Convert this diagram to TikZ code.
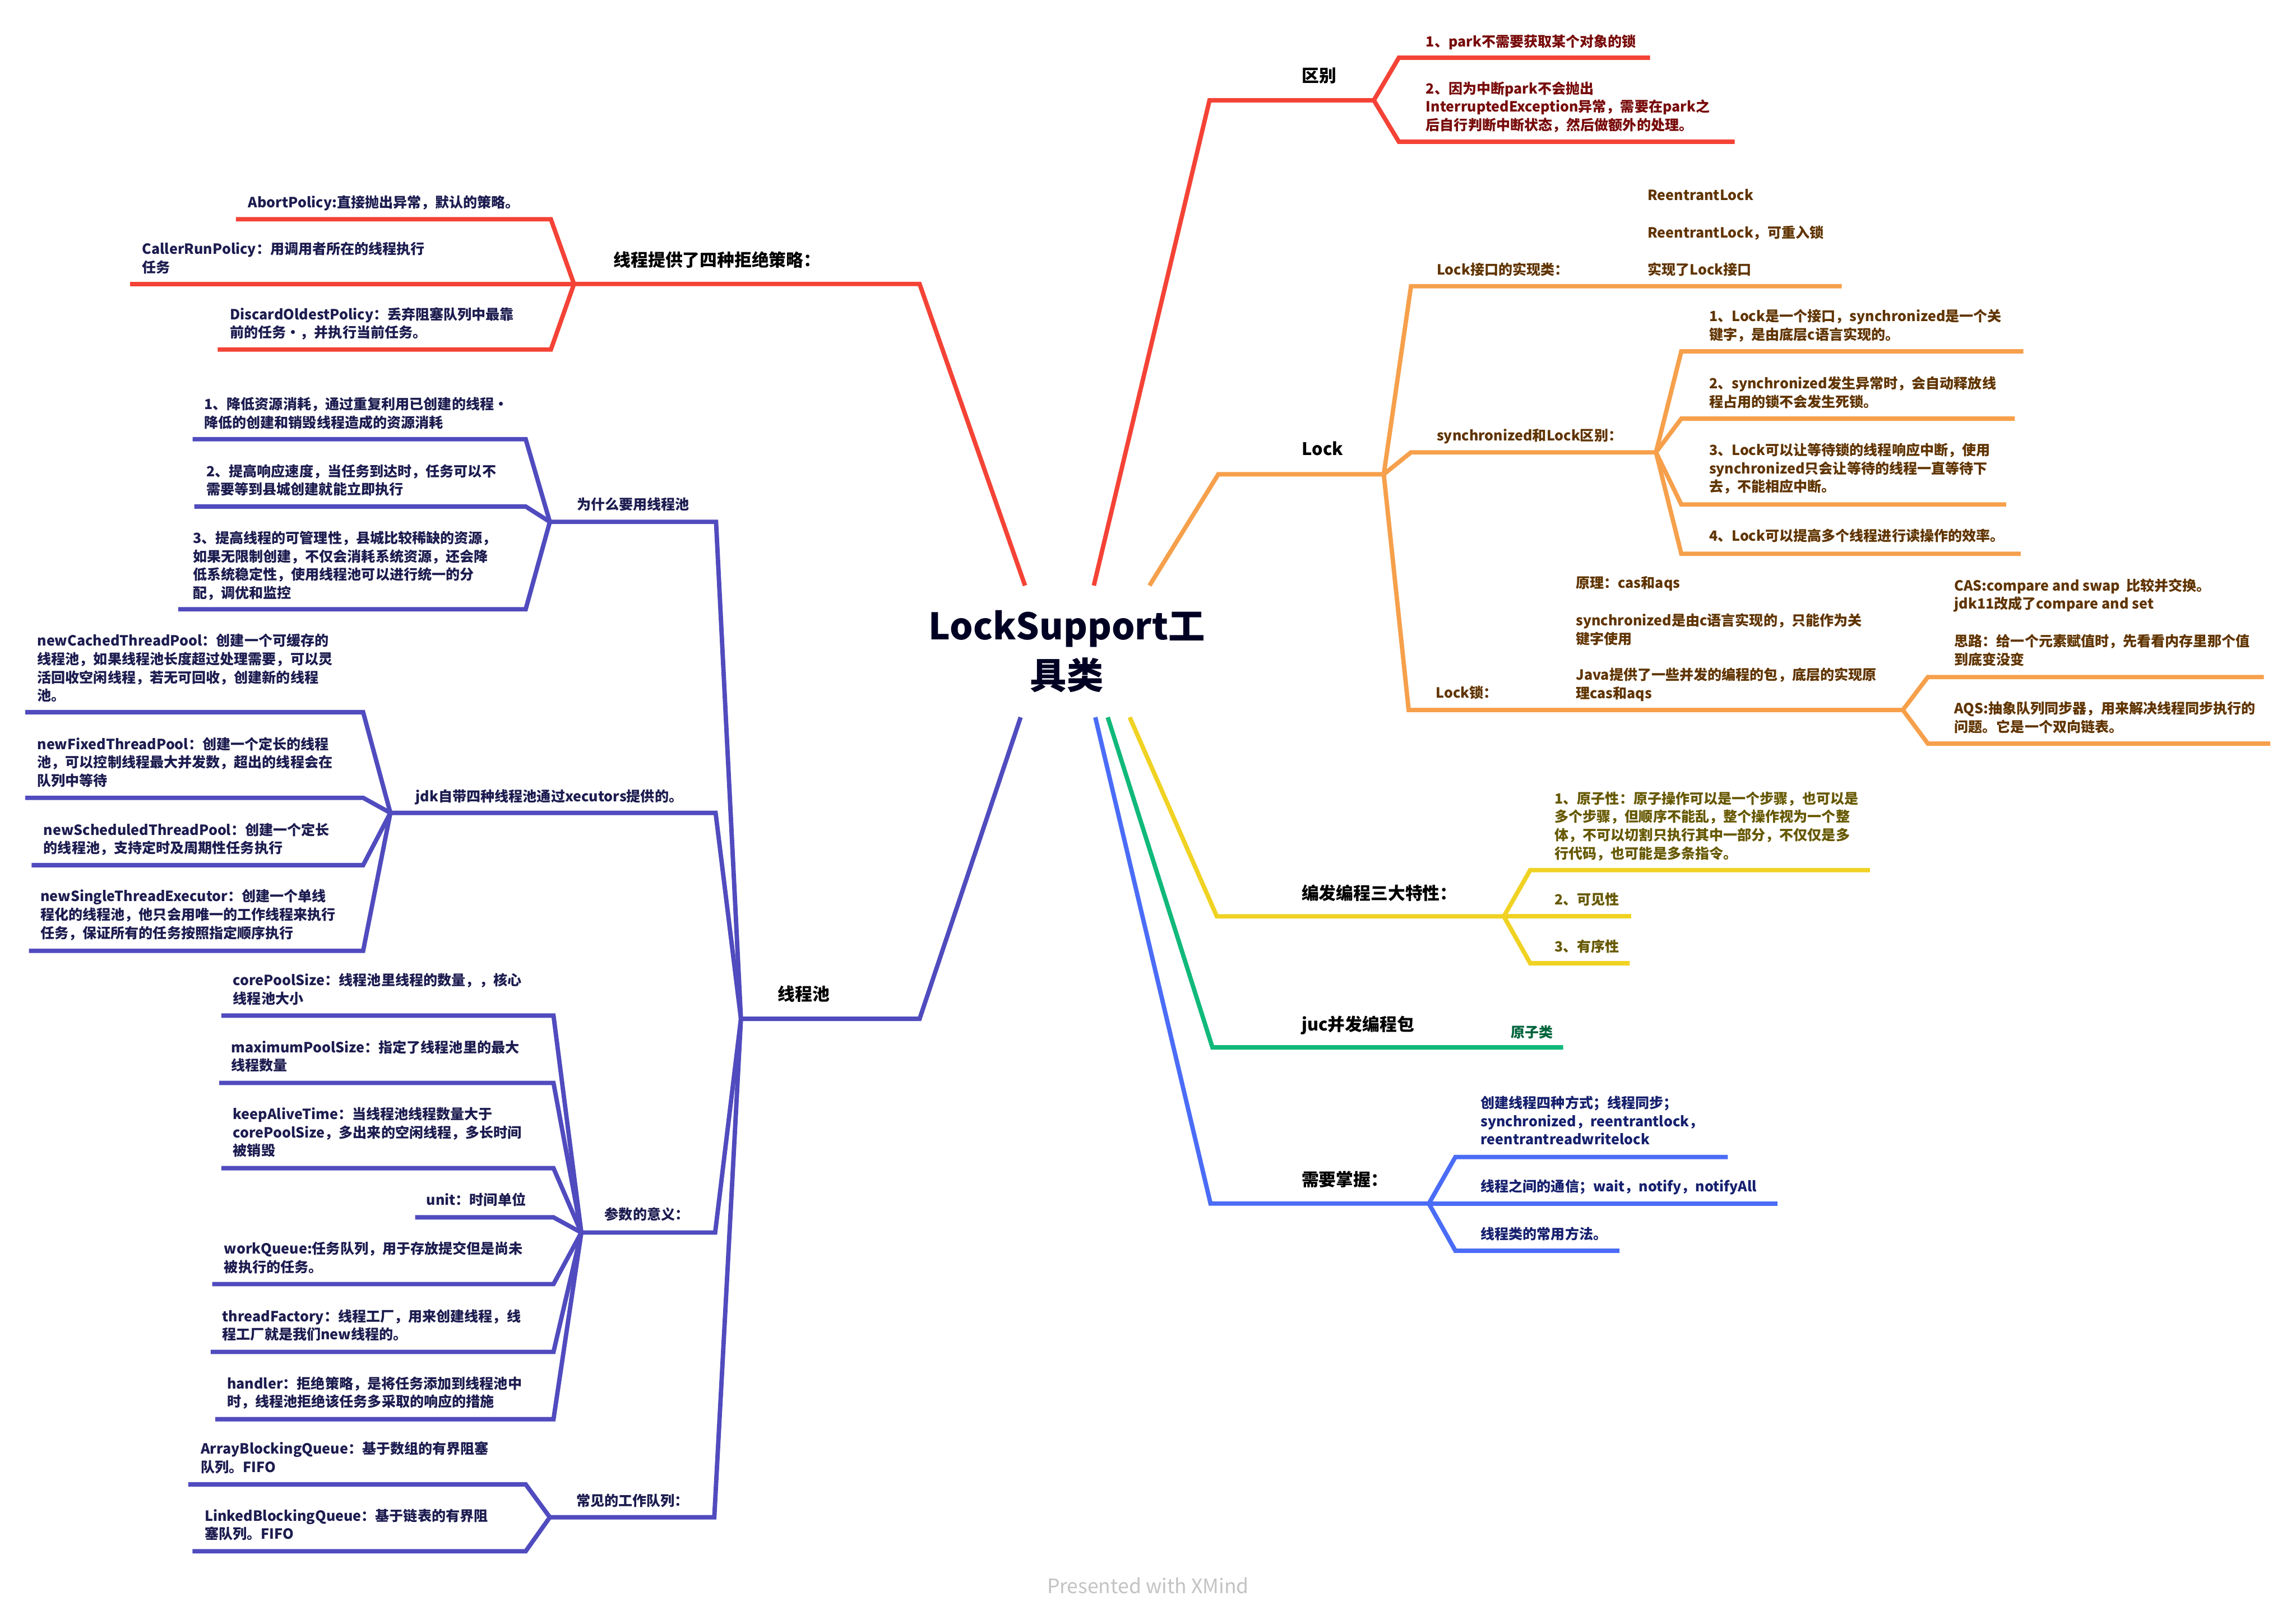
\documentclass[tikz,border=0pt]{standalone}
\usepackage{fontspec}
\setmainfont{Noto Sans CJK SC}
\definecolor{cRed}{RGB}{244,67,54}
\definecolor{tRed}{RGB}{120,10,10}
\definecolor{cOrg}{RGB}{246,160,76}
\definecolor{tOrg}{RGB}{96,52,0}
\definecolor{cYel}{RGB}{240,210,35}
\definecolor{tYel}{RGB}{102,88,0}
\definecolor{cGrn}{RGB}{16,185,122}
\definecolor{tGrn}{RGB}{0,100,60}
\definecolor{cBlu}{RGB}{74,108,247}
\definecolor{tBlu}{RGB}{22,32,110}
\definecolor{cPur}{RGB}{80,75,190}
\definecolor{tNav}{RGB}{28,28,80}
\definecolor{cCen}{RGB}{0,0,35}
\definecolor{cWm}{RGB}{195,195,195}
\tikzset{
  ln/.style={line width=3pt, line join=miter},
  st/.style={font=\fontsize{9.6}{12.5}\selectfont\bfseries, inner sep=0pt, anchor=base west, align=left},
  mt/.style={font=\fontsize{11.8}{14}\selectfont\bfseries, inner sep=0pt, anchor=base west, text=black},
  ctr/.style={font=\fontsize{25}{33.5}\selectfont\bfseries, inner sep=0pt, anchor=base, align=center, text=cCen},
}
% #1 colour, #2 junction, #3 corner x, #4 y, #5 end x, #6 name
\newcommand\mmkid[6]{%
  \coordinate (#6c) at (#3,#4);
  \coordinate (#6e) at (#5,#4);
  \draw[ln,#1] (#2) -- (#6c) -- (#6e);}
\begin{document}
\begin{tikzpicture}[x=1pt,y=-1pt]
\fill[white] (0,0) rectangle (1568,1103);
\useasboundingbox (0,0) rectangle (1568,1103);

% (multi-line nodes are placed by the baseline of their last line)

% ---------- centre
\node[ctr] (root) at (728.5,470.5) {LockSupport工\\具类};

% ---------- right red : 区别
\coordinate (sRR) at (747,400);
\coordinate (kRR) at (826,68.5);
\coordinate (jRR) at (938.2,68.5);
\draw[ln,cRed] (sRR) -- (kRR) -- (jRR);
\node[mt] (qubie) at (888.9,56) {区别};
\mmkid{cRed}{jRR}{955.3}{39.4}{1126.8}{r1}
\mmkid{cRed}{jRR}{955.3}{96.8}{1184.6}{r2}
\node[st,text=tRed] (r1t) at (973.6,32) {1、park不需要获取某个对象的锁};
\node[st,text=tRed] (r2t) at (973.6,89) {2、因为中断park不会抛出\\InterruptedException异常，需要在park之\\后自行判断中断状态，然后做额外的处理。};

% ---------- orange : Lock
\coordinate (sOR) at (785,400);
\coordinate (kOR) at (832,324);
\coordinate (jOR) at (945,324);
\draw[ln,cOrg] (sOR) -- (kOR) -- (jOR);
\node[mt] (lock) at (889,311) {Lock};
\mmkid{cOrg}{jOR}{963.6}{195.5}{1257.8}{o1}
\mmkid{cOrg}{jOR}{963.6}{309}{1130.9}{o2}
\mmkid{cOrg}{jOR}{962}{485}{1299.5}{o3}
\mmkid{cOrg}{o2e}{1148.2}{240}{1381.8}{s1}
\mmkid{cOrg}{o2e}{1148.2}{286}{1376}{s2}
\mmkid{cOrg}{o2e}{1148.2}{344.6}{1370}{s3}
\mmkid{cOrg}{o2e}{1148.2}{378.3}{1380}{s4}
\mmkid{cOrg}{o3e}{1316.6}{462.5}{1546}{k1}
\mmkid{cOrg}{o3e}{1316.6}{508}{1550.4}{k2}
\node[st,text=tOrg] (o1t) at (981,187.6) {Lock接口的实现类：};
\node[st,text=tOrg] (o1a) at (1125,137) {ReentrantLock};
\node[st,text=tOrg] (o1b) at (1125,162.4) {ReentrantLock，可重入锁};
\node[st,text=tOrg] (o1c) at (1125,187.6) {实现了Lock接口};
\node[st,text=tOrg] (o2t) at (981,301.2) {synchronized和Lock区别：};
\node[st,text=tOrg] (s1t) at (1167,232.1) {1、Lock是一个接口，synchronized是一个关\\键字，是由底层c语言实现的。};
\node[st,text=tOrg] (s2t) at (1167,278.1) {2、synchronized发生异常时，会自动释放线\\程占用的锁不会发生死锁。};
\node[st,text=tOrg] (s3t) at (1167,336) {3、Lock可以让等待锁的线程响应中断，使用\\synchronized只会让等待的线程一直等待下\\去，不能相应中断。};
\node[st,text=tOrg] (s4t) at (1167,369.6) {4、Lock可以提高多个线程进行读操作的效率。};
\node[st,text=tOrg] (o3t) at (980.5,476.6) {Lock锁：};
\node[st,text=tOrg] (o3a) at (1076,401.6) {原理：cas和aqs};
\node[st,text=tOrg] (o3b) at (1076,440) {synchronized是由c语言实现的，只能作为关\\键字使用};
\node[st,text=tOrg] (o3c) at (1076,477.1) {Java提供了一些并发的编程的包，底层的实现原\\理cas和aqs};
\node[st,text=tOrg] (k0t) at (1334.5,416.1) {CAS:compare and swap\ \ 比较并交换。\\jdk11改成了compare and set};
\node[st,text=tOrg] (k1t) at (1334.5,454.1) {思路：给一个元素赋值时，先看看内存里那个值\\到底变没变};
\node[st,text=tOrg] (k2t) at (1334.5,500.1) {AQS:抽象队列同步器，用来解决线程同步执行的\\问题。它是一个双向链表。};

% ---------- yellow
\coordinate (sYE) at (771.5,490);
\coordinate (kYE) at (831,626);
\coordinate (jYE) at (1027,626);
\draw[ln,cYel] (sYE) -- (kYE) -- (jYE);
\node[mt] (tezheng) at (888.7,614.5) {编发编程三大特性：};
\mmkid{cYel}{jYE}{1045}{594.4}{1277}{y1}
\coordinate (y2e) at (1113.8,626);
\draw[ln,cYel] (jYE) -- (y2e);
\mmkid{cYel}{jYE}{1045}{658}{1113}{y3}
\node[st,text=tYel] (y1t) at (1061.5,586.5) {1、原子性：原子操作可以是一个步骤，也可以是\\多个步骤，但顺序不能乱，整个操作视为一个整\\体，不可以切割只执行其中一部分，不仅仅是多\\行代码，也可能是多条指令。};
\node[st,text=tYel] (y2t) at (1061.5,618) {2、可见性};
\node[st,text=tYel] (y3t) at (1061.5,650.3) {3、有序性};

% ---------- green
\coordinate (sGR) at (756.5,490);
\coordinate (kGR) at (828,715.5);
\coordinate (eGR) at (1067.5,715.5);
\draw[ln,cGrn] (sGR) -- (kGR) -- (eGR);
\node[mt] (juc) at (888.7,704) {juc并发编程包};
\node[st,text=tGrn] (yzl) at (1031.5,708.6) {原子类};

% ---------- blue
\coordinate (sBL) at (748,490);
\coordinate (kBL) at (826.7,822.2);
\coordinate (jBL) at (975.8,822.2);
\draw[ln,cBlu] (sBL) -- (kBL) -- (jBL);
\node[mt] (zhangwo) at (888.7,810.2) {需要掌握：};
\mmkid{cBlu}{jBL}{993.9}{790.4}{1180}{b1}
\coordinate (b2e) at (1214,822.2);
\draw[ln,cBlu] (jBL) -- (b2e);
\mmkid{cBlu}{jBL}{993.9}{854.4}{1106}{b3}
\node[st,text=tBlu] (b1t) at (1011,782) {创建线程四种方式；线程同步；\\synchronized，reentrantlock，\\reentrantreadwritelock};
\node[st,text=tBlu] (b2t) at (1011,814) {线程之间的通信；wait，notify，notifyAll};
\node[st,text=tBlu] (b3t) at (1011,846.5) {线程类的常用方法。};

% ---------- left red
\coordinate (sRL) at (700,400);
\coordinate (kRL) at (628,194);
\coordinate (jRL) at (392,194);
\draw[ln,cRed] (sRL) -- (kRL) -- (jRL);
\node[mt] (jujue) at (418.8,181.9) {线程提供了四种拒绝策略：};
\mmkid{cRed}{jRL}{376.2}{149.8}{161.1}{p1}
\coordinate (p2e) at (89,194);
\draw[ln,cRed] (jRL) -- (p2e);
\mmkid{cRed}{jRL}{376.2}{238.8}{148.7}{p3}
\node[st,text=tNav] (p1t) at (169.3,141.7) {AbortPolicy:直接抛出异常，默认的策略。};
\node[st,text=tNav] (p2t) at (96.9,186.1) {CallerRunPolicy：用调用者所在的线程执行\\任务};
\node[st,text=tNav] (p3t) at (156.9,230.7) {DiscardOldestPolicy：丢弃阻塞队列中最靠\\前的任务·，并执行当前任务。};

% ---------- purple : 线程池
\coordinate (sPU) at (697,490);
\coordinate (kPU) at (628,696);
\coordinate (jPU) at (506,696);
\draw[ln,cPur] (sPU) -- (kPU) -- (jPU);
\node[mt] (xcc) at (531,683.5) {线程池};
\mmkid{cPur}{jPU}{489}{356.5}{375.5}{w1}
\mmkid{cPur}{jPU}{488.7}{555.3}{266.6}{w2}
\mmkid{cPur}{jPU}{488.4}{842}{397}{w3}
\mmkid{cPur}{jPU}{487.8}{1036.5}{375.5}{w4}
% why
\mmkid{cPur}{w1e}{359}{300}{131.5}{a1}
\mmkid{cPur}{w1e}{359}{346}{132.7}{a2}
\mmkid{cPur}{w1e}{359}{416.2}{121.7}{a3}
\node[st,text=tNav] (w1t) at (393.8,348) {为什么要用线程池};
\node[st,text=tNav] (a1t) at (139.3,292.2) {1、降低资源消耗，通过重复利用已创建的线程·\\降低的创建和销毁线程造成的资源消耗};
\node[st,text=tNav] (a2t) at (140.8,337.9) {2、提高响应速度，当任务到达时，任务可以不\\需要等到县城创建就能立即执行};
\node[st,text=tNav] (a3t) at (131.5,408.7) {3、提高线程的可管理性，县城比较稀缺的资源，\\如果无限制创建，不仅会消耗系统资源，还会降\\低系统稳定性，使用线程池可以进行统一的分\\配，调优和监控};
% jdk
\mmkid{cPur}{w2e}{248}{486.5}{17.3}{n1}
\mmkid{cPur}{w2e}{248}{545}{17.3}{n2}
\mmkid{cPur}{w2e}{248}{591}{21.6}{n3}
\mmkid{cPur}{w2e}{248}{649.5}{19.8}{n4}
\node[st,text=tNav] (w2t) at (283.8,547.7) {jdk自带四种线程池通过xecutors提供的。};
\node[st,text=tNav] (n1t) at (25.3,478.8) {newCachedThreadPool：创建一个可缓存的\\线程池，如果线程池长度超过处理需要，可以灵\\活回收空闲线程，若无可回收，创建新的线程\\池。};
\node[st,text=tNav] (n2t) at (25.3,536.9) {newFixedThreadPool：创建一个定长的线程\\池，可以控制线程最大并发数，超出的线程会在\\队列中等待};
\node[st,text=tNav] (n3t) at (29.6,583) {newScheduledThreadPool：创建一个定长\\的线程池，支持定时及周期性任务执行};
\node[st,text=tNav] (n4t) at (27.5,640.9) {newSingleThreadExecutor：创建一个单线\\程化的线程池，他只会用唯一的工作线程来执行\\任务，保证所有的任务按照指定顺序执行};
% params
\mmkid{cPur}{w3e}{378}{693.8}{151.2}{m1}
\mmkid{cPur}{w3e}{378}{739.8}{149.7}{m2}
\mmkid{cPur}{w3e}{378}{798}{151.2}{m3}
\mmkid{cPur}{w3e}{378}{831.6}{283.5}{m4}
\mmkid{cPur}{w3e}{378}{877.2}{144.9}{m5}
\mmkid{cPur}{w3e}{378}{923.5}{143.9}{m6}
\mmkid{cPur}{w3e}{378}{969.5}{147}{m7}
\node[st,text=tNav] (w3t) at (412.8,833.3) {参数的意义：};
\node[st,text=tNav] (m1t) at (159,685.7) {corePoolSize：线程池里线程的数量，，核心\\线程池大小};
\node[st,text=tNav] (m2t) at (157.8,731.5) {maximumPoolSize：指定了线程池里的最大\\线程数量};
\node[st,text=tNav] (m3t) at (159,789.7) {keepAliveTime：当线程池线程数量大于\\corePoolSize，多出来的空闲线程，多长时间\\被销毁};
\node[st,text=tNav] (m4t) at (291,823.4) {unit：时间单位};
\node[st,text=tNav] (m5t) at (152.9,869.2) {workQueue:任务队列，用于存放提交但是尚未\\被执行的任务。};
\node[st,text=tNav] (m6t) at (151.7,915.2) {threadFactory：线程工厂，用来创建线程，线\\程工厂就是我们new线程的。};
\node[st,text=tNav] (m7t) at (154.9,961.2) {handler：拒绝策略，是将任务添加到线程池中\\时，线程池拒绝该任务多采取的响应的措施};
% queues
\mmkid{cPur}{w4e}{359}{1014}{128.6}{c1}
\mmkid{cPur}{w4e}{359}{1059.7}{131.4}{c2}
\node[st,text=tNav] (w4t) at (393.4,1028.7) {常见的工作队列：};
\node[st,text=tNav] (c1t) at (137,1005.8) {ArrayBlockingQueue：基于数组的有界阻塞\\队列。FIFO};
\node[st,text=tNav] (c2t) at (139.6,1051.5) {LinkedBlockingQueue：基于链表的有界阻\\塞队列。FIFO};

% ---------- watermark
\node[font=\fontsize{13.6}{15}\selectfont, text=cWm, inner sep=0pt] (wm) at (784,1083) {Presented with XMind};
\end{tikzpicture}
\end{document}
